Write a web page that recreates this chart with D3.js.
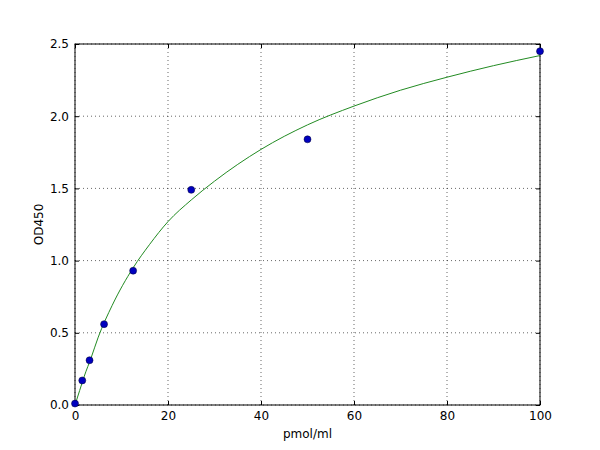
<!DOCTYPE html>
<html><head><meta charset="utf-8">
<script src="https://cdn.jsdelivr.net/npm/d3@7"></script>
<style>body{margin:0;background:#fff}</style>
</head><body><div id="chart"></div>
<script>
const pointX = [0, 1.56, 3.125, 6.25, 12.5, 25, 50, 100];
const pointY = [0.01, 0.17, 0.31, 0.56, 0.93, 1.49, 1.84, 2.45];
const curveX = [0, 1, 2, 3.5, 5, 8, 12.5, 16, 20, 25, 30, 40, 50, 60, 70, 80, 90, 100];
const curveY = [0, 0.1, 0.2, 0.33, 0.47, 0.69, 0.95, 1.11, 1.27, 1.42, 1.55, 1.77, 1.94, 2.07, 2.18, 2.27, 2.35, 2.42];
const xTicks = [0, 20, 40, 60, 80, 100];
const yTicks = [0, 0.5, 1, 1.5, 2, 2.5];

const width = 600, height = 450;
const m = {left: 75, right: 60, top: 44, bottom: 45};
const svg = d3.select("#chart").append("svg").attr("width", width).attr("height", height)
  .style("font-family", "DejaVu Sans").style("font-size", "12px");
const x = d3.scaleLinear().domain([0, 100]).range([m.left, width - m.right]);
const y = d3.scaleLinear().domain([0, 2.5]).range([height - m.bottom, m.top]);

// grid
const g = svg.append("g").attr("stroke", "#000").attr("stroke-dasharray", "1,3").attr("stroke-width", 0.6);
g.selectAll(".gx").data(xTicks).enter().append("line")
  .attr("x1", d => x(d)).attr("x2", d => x(d)).attr("y1", y(0)).attr("y2", y(2.5));
g.selectAll(".gy").data(yTicks).enter().append("line")
  .attr("y1", d => y(d)).attr("y2", d => y(d)).attr("x1", x(0)).attr("x2", x(100));

// axes with inward ticks
const fmtY = d3.format(".1f");
svg.append("g").attr("transform", `translate(0,${y(0)})`)
  .call(d3.axisBottom(x).tickValues(xTicks).tickSizeInner(-4).tickSizeOuter(0).tickPadding(6));
svg.append("g").attr("transform", `translate(0,${y(2.5)})`)
  .call(d3.axisTop(x).tickValues(xTicks).tickSizeInner(-4).tickSizeOuter(0).tickFormat(""));
svg.append("g").attr("transform", `translate(${x(0)},0)`)
  .call(d3.axisLeft(y).tickValues(yTicks).tickFormat(fmtY).tickSizeInner(-4).tickSizeOuter(0).tickPadding(6));
svg.append("g").attr("transform", `translate(${x(100)},0)`)
  .call(d3.axisRight(y).tickValues(yTicks).tickSizeInner(-4).tickSizeOuter(0).tickFormat(""));
svg.selectAll(".domain").remove();
svg.selectAll(".tick text").style("font-family", "DejaVu Sans").style("font-size", "12px").attr("fill", "#000");
svg.append("rect").attr("x", x(0)).attr("y", y(2.5)).attr("width", x(100) - x(0)).attr("height", y(0) - y(2.5))
  .attr("fill", "none").attr("stroke", "#000");

// curve
const line = d3.line().x((d, i) => x(curveX[i])).y(d => y(d)).curve(d3.curveMonotoneX);
svg.append("path").attr("d", line(curveY)).attr("fill", "none").attr("stroke", "#228b22").attr("stroke-width", 1);

// points
svg.append("g").selectAll("circle").data(pointX).enter().append("circle")
  .attr("cx", d => x(d)).attr("cy", (d, i) => y(pointY[i])).attr("r", 3.5)
  .attr("fill", "#0000bf").attr("stroke", "#000033").attr("stroke-width", 0.5);

svg.append("text").attr("x", (x(0) + x(100)) / 2).attr("y", 438).attr("text-anchor", "middle").text("pmol/ml");
svg.append("text").attr("transform", `translate(43,${(y(0) + y(2.5)) / 2}) rotate(-90)`)
  .attr("text-anchor", "middle").text("OD450");
</script></body></html>
